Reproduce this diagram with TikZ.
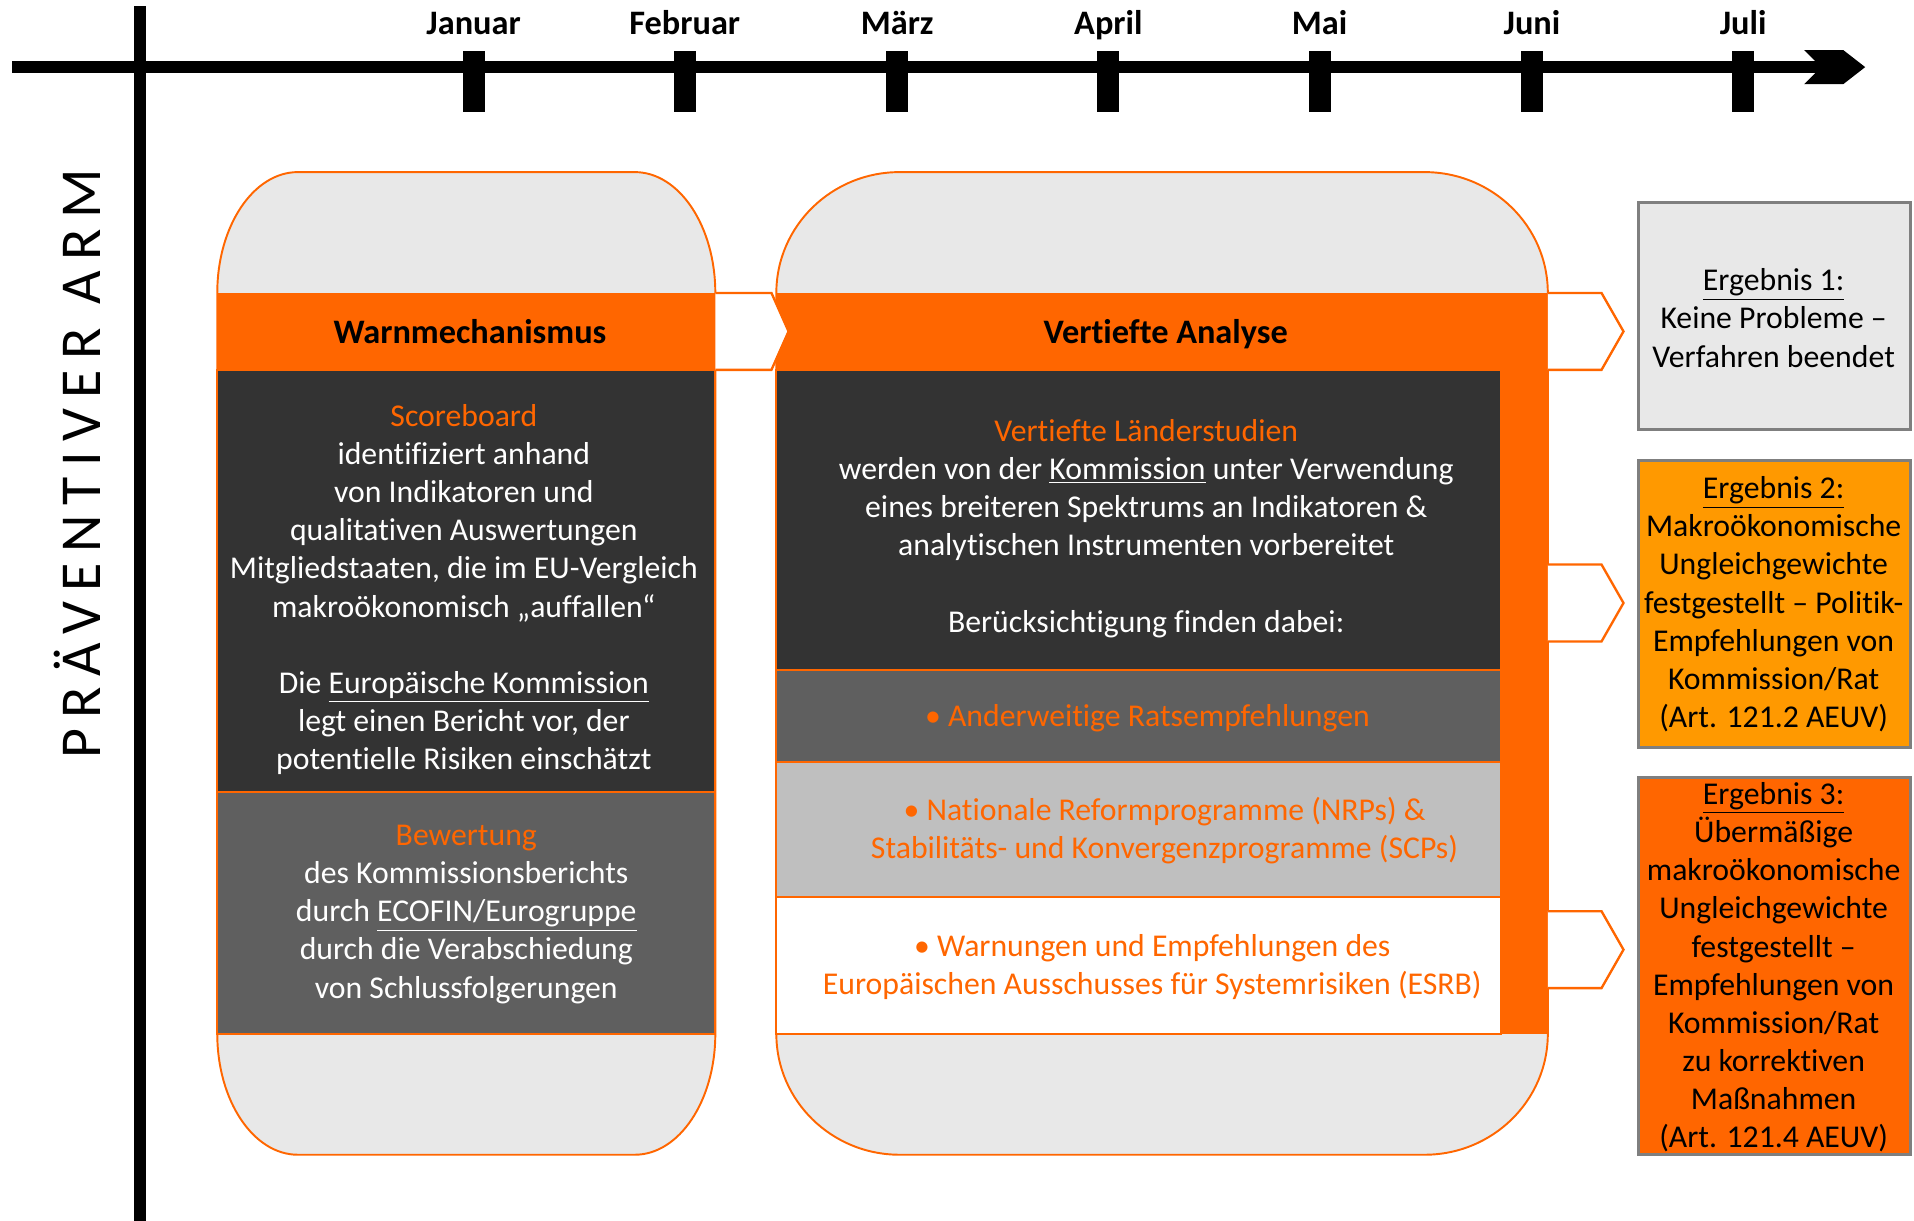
\documentclass[tikz,border=0pt]{standalone}
\usepackage{fontspec}
\setmainfont{Carlito}[Ligatures={NoCommon,NoContextual}]
\newfontfamily\armfont[LetterSpace=18]{Carlito}

\definecolor{eorange}{HTML}{FF6600}
\definecolor{eamber}{HTML}{FF9900}
\definecolor{edark}{HTML}{333333}
\definecolor{emid}{HTML}{5F5F5F}
\definecolor{esilver}{HTML}{BFBFBF}
\definecolor{epale}{HTML}{E8E8E8}
\definecolor{eframe}{HTML}{7F7F7F}

\begin{document}
\begin{tikzpicture}[x=0.02cm,y=0.02cm,
    body/.style={align=center,inner sep=0pt,font=\fontsize{14.8}{17.8}\selectfont},
    month/.style={anchor=base,inner sep=0pt,font=\fontsize{16}{19}\selectfont\bfseries},
    chev/.style={fill=white,draw=eorange,line width=1.1pt},
    result/.style={draw=eframe,line width=1.4pt},
    part/.style={draw=eorange,line width=0.9pt}]
            \useasboundingbox (0,0) rectangle (1568,1000);
            \fill (10,940) -- (1492,940) -- (1492,950) -- (10,950) -- cycle;
            \fill (1478,931) -- (1510,931) -- (1528,945) -- (1510,959) -- (1478,959) -- (1492,945) -- cycle;
            \fill (110,0) rectangle (120,995);
            \foreach \mx/\mname in {388/Januar,561/Februar,735/März,908/April,1081/Mai,1255/Juni,1428/Juli} {
                \fill (\mx-9,908) rectangle (\mx+9,958);
                \node[month] (m\mx) at (\mx,972) {\mname};
            }
            \node[rotate=90,inner sep=0pt,font=\fontsize{27}{31}\selectfont\armfont] (arm) at (63,620) {PRÄVENTIVER ARM};
            \pgfmathsetmacro{\lr}{66};
            \pgfmathsetmacro{\rr}{101};
            \draw [part,fill=epale] (178,760) -- (178,153) arc[start angle=180,end angle=270,x radius=\lr,y radius=99] -- (586-\lr,54) arc[start angle=270,end angle=360,x radius=\lr,y radius=99] -- (586,760) arc[start angle=0,end angle=90,x radius=\lr,y radius=99] -- (178+\lr,859) arc[start angle=90,end angle=180,x radius=\lr,y radius=99] -- cycle;
            \draw [part,fill=epale] (636,760) -- (636,153) arc[start angle=180,end angle=270,x radius=\rr,y radius=99] -- (1268-\rr,54) arc[start angle=270,end angle=360,x radius=\rr,y radius=99] -- (1268,760) arc[start angle=0,end angle=90,x radius=\rr,y radius=99] -- (636+\rr,859) arc[start angle=90,end angle=180,x radius=\rr,y radius=99] -- cycle;
            \fill [eorange] (178,697) rectangle (586,760);
            \draw [part,fill=edark] (178,351) rectangle (586,697);
            \draw [part,fill=emid] (178,153) rectangle (586,351);
            \fill [eorange] (636,697) rectangle (1268,760);
            \fill [eorange] (1230,153) rectangle (1268,697);
            \draw [part,fill=edark] (636,451) rectangle (1230,697);
            \draw [part,fill=emid] (636,376) rectangle (1230,451);
            \draw [part,fill=esilver] (636,265) rectangle (1230,376);
            \draw [part,fill=white] (636,153) rectangle (1230,265);
            \draw [chev] (586,760) -- (632,760) -- (646,728.5) -- (632,697) -- (586,697);
            \foreach \yc in {728.5,506,222}
                \draw [chev] (1268,\yc+31.5) -- (1312,\yc+31.5) -- (1330,\yc) -- (1312,\yc-31.5) -- (1268,\yc-31.5);
            \draw [result,fill=epale] (1342,648) rectangle (1565,834);
            \draw [result,fill=eamber] (1342,388) rectangle (1565,623);
            \draw [result,fill=eorange] (1342,54) rectangle (1565,363);
            \node[body,font=\fontsize{16}{19}\selectfont\bfseries] (warn) at (385,728.5) {Warnmechanismus};
            \node[body,text depth=0pt,font=\fontsize{16}{19}\selectfont\bfseries] (tief) at (955,728.5) {Vertiefte Analyse};
            \node[body,text=white] (score) at (380,517) {\textcolor{eorange}{Scoreboard}\\identifiziert anhand\\von Indikatoren und\\qualitativen Auswertungen\\Mitgliedstaaten, die im EU-Vergleich\\makroökonomisch „auffallen“\\[17.8pt]Die \underline{Europäische Kommission}\\legt einen Bericht vor, der\\potentielle Risiken einschätzt};
            \node[body,text=white] (bewert) at (382,251) {\textcolor{eorange}{Bewertung}\\des Kommissionsberichts\\durch \underline{ECOFIN/Eurogruppe}\\durch die Verabschiedung\\von Schlussfolgerungen};
            \node[body,text=white] (studien) at (939,567) {\textcolor{eorange}{Vertiefte Länderstudien}\\werden von der \underline{Kommission} unter Verwendung\\eines breiteren Spektrums an Indikatoren \&\\analytischen Instrumenten vorbereitet\\[17.8pt]Berücksichtigung finden dabei:};
            \node[body,text=eorange] (rats) at (940,412) {• Anderweitige Ratsempfehlungen};
            \node[body,text=eorange] (nrp) at (954,319.5) {• Nationale Reformprogramme (NRPs) \&\\Stabilitäts- und Konvergenzprogramme (SCPs)};
            \node[body,text=eorange] (esrb) at (944,207.5) {• Warnungen und Empfehlungen des\\Europäischen Ausschusses für Systemrisiken (ESRB)};
            \node[body] (erg1) at (1453,739.5) {\underline{Ergebnis 1:}\\Keine Probleme –\\Verfahren beendet};
            \node[body] (erg2) at (1453,505) {\underline{Ergebnis 2:}\\Makroökonomische\\Ungleichgewichte\\festgestellt – Politik-\\Empfehlungen von\\Kommission/Rat\\(Art. 121.2 AEUV)};
            \node[body] (erg3) at (1453,207.5) {\underline{Ergebnis 3:}\\Übermäßige\\makroökonomische\\Ungleichgewichte\\festgestellt –\\Empfehlungen von\\Kommission/Rat\\zu korrektiven\\Maßnahmen\\(Art. 121.4 AEUV)};
        \end{tikzpicture}
\end{document}
